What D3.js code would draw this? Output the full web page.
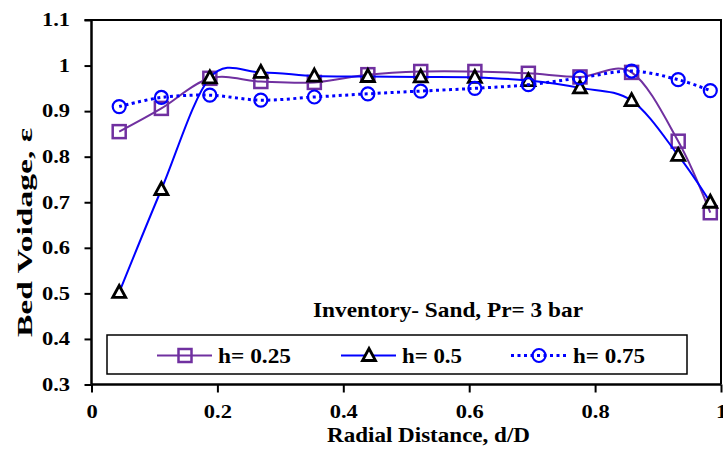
<!DOCTYPE html>
<html>
<head>
<meta charset="utf-8">
<script src="https://cdn.jsdelivr.net/npm/d3@7"></script>
<style>
  html, body { margin: 0; padding: 0; background: #fff; }
  svg { display: block; }
  text { font-family: "Liberation Serif", "Times New Roman", serif; font-weight: bold; fill: #000; }
</style>
</head>
<body>
<svg id="chart" width="723" height="450"></svg>
<script>
// Radial positions (d/D) of the measuring points
const radialPos = [0.044, 0.111, 0.188, 0.269, 0.354, 0.439, 0.523, 0.609, 0.694, 0.776, 0.858, 0.932, 0.983];

// Bed voidage at each radial position, one list per bed height
const voidH025 = [0.855, 0.906, 0.972, 0.965, 0.963, 0.980, 0.987, 0.987, 0.983, 0.975, 0.985, 0.834, 0.677];
const voidH050 = [0.502, 0.728, 0.973, 0.985, 0.977, 0.976, 0.975, 0.974, 0.967, 0.951, 0.923, 0.803, 0.700];
const voidH075 = [0.910, 0.930, 0.935, 0.924, 0.931, 0.938, 0.944, 0.950, 0.958, 0.973, 0.988, 0.969, 0.945];

const seriesNames = ["h= 0.25", "h= 0.5", "h= 0.75"];
const xTicks = [0, 0.2, 0.4, 0.6, 0.8, 1];
const yTicks = [0.3, 0.4, 0.5, 0.6, 0.7, 0.8, 0.9, 1, 1.1];
const annotation = "Inventory- Sand, Pr= 3 bar";
const xTitle = "Radial Distance, d/D";
const yTitle = "Bed Voidage, \u03b5";

const svg = d3.select("#chart");
const plot = { left: 91.5, right: 721, top: 20, bottom: 384.5 };

const x = d3.scaleLinear().domain([0, 1]).range([plot.left, plot.right]);
const y = d3.scaleLinear().domain([0.3, 1.1]).range([plot.bottom, plot.top]);

// Widen glyphs horizontally (wide bold serif look)
function widen(sel, factor) {
  sel.each(function () {
    const w = this.getComputedTextLength();
    d3.select(this).attr("textLength", w * factor).attr("lengthAdjust", "spacingAndGlyphs");
  });
}
function fitTo(sel, len) {
  sel.attr("textLength", len).attr("lengthAdjust", "spacingAndGlyphs");
}

// Frame: top and right borders
svg.append("path")
  .attr("d", `M${plot.left - 7},${plot.top}H${plot.right}V${plot.bottom}`)
  .attr("fill", "none").attr("stroke", "#000").attr("stroke-width", 2);

// Axes
const xAxis = svg.append("g")
  .attr("transform", `translate(0,${plot.bottom})`)
  .call(d3.axisBottom(x).tickValues(xTicks).tickSize(8).tickPadding(12.5)
    .tickFormat(d => d3.format("")(d)));
const yAxis = svg.append("g")
  .attr("transform", `translate(${plot.left},0)`)
  .call(d3.axisLeft(y).tickValues(yTicks).tickSize(7).tickPadding(14.5)
    .tickFormat(d => d3.format("")(+d.toFixed(1))));

[xAxis, yAxis].forEach(g => {
  g.select(".domain").attr("stroke", "#000").attr("stroke-width", 2.5);
  g.selectAll(".tick line").attr("stroke", "#000").attr("stroke-width", 2);
  g.selectAll(".tick text")
    .attr("font-family", "Liberation Serif, serif")
    .attr("font-weight", "bold")
    .attr("font-size", 18)
    .attr("fill", "#000")
    .call(widen, 1.25);
});
xAxis.select(".domain").attr("d", `M${plot.left},0H${plot.right}`);
yAxis.select(".domain").attr("d", `M0,${plot.top}V${plot.bottom}`);

// Axis titles
svg.append("text")
  .attr("x", 327 + 203 / 2).attr("y", 441.5)
  .attr("text-anchor", "middle").attr("font-size", 21.5)
  .text(xTitle).call(fitTo, 203);
svg.append("text")
  .attr("transform", `translate(32,232.5) rotate(-90)`)
  .attr("text-anchor", "middle").attr("font-size", 20)
  .text(yTitle).call(fitTo, 209);

// Series styles
const styles = [
  { values: voidH025, line: "#7030A0", width: 2, dash: null, marker: "square", mStroke: "#7030A0", mFill: "none" },
  { values: voidH050, line: "#0000FF", width: 2, dash: null, marker: "triangle", mStroke: "#000", mFill: "#fff" },
  { values: voidH075, line: "#0000FF", width: 3, dash: "3,3.5", marker: "circle", mStroke: "#0000FF", mFill: "none" }
];

const line = d3.line()
  .x(d => x(d[0])).y(d => y(d[1]))
  .curve(d3.curveCatmullRom.alpha(0));

function drawMarker(g, type, cx, cy, stroke, fill) {
  if (type === "square") {
    g.append("rect").attr("x", cx - 6.5).attr("y", cy - 6.5)
      .attr("width", 13).attr("height", 13)
      .attr("fill", fill).attr("stroke", stroke).attr("stroke-width", 2.5);
  } else if (type === "triangle") {
    g.append("path")
      .attr("d", `M${cx},${cy - 7}L${cx + 6.5},${cy + 5}L${cx - 6.5},${cy + 5}Z`)
      .attr("fill", fill).attr("stroke", stroke).attr("stroke-width", 2.8)
      .attr("stroke-linejoin", "miter");
  } else {
    g.append("circle").attr("cx", cx).attr("cy", cy).attr("r", 6.5)
      .attr("fill", fill).attr("stroke", stroke).attr("stroke-width", 2.2);
  }
}

styles.forEach(s => {
  const pts = radialPos.map((r, i) => [r, s.values[i]]);
  const g = svg.append("g");
  g.append("path").attr("d", line(pts))
    .attr("fill", "none").attr("stroke", s.line).attr("stroke-width", s.width)
    .attr("stroke-dasharray", s.dash);
  pts.forEach(p => drawMarker(g, s.marker, x(p[0]), y(p[1]), s.mStroke, s.mFill));
});

// Annotation
svg.append("text").attr("x", 313).attr("y", 317).attr("font-size", 21)
  .text(annotation).call(fitTo, 270);

// Legend
const legend = svg.append("g");
legend.append("rect").attr("x", 107).attr("y", 335).attr("width", 580).attr("height", 39)
  .attr("fill", "#fff").attr("stroke", "#000").attr("stroke-width", 1.5);
const legendX = [157, 341, 511];
const legendTextX = [218, 402, 573];
const legendTextW = [73, 60, 72];
styles.forEach((s, i) => {
  const lx = legendX[i], ly = 355.5;
  legend.append("line").attr("x1", lx).attr("x2", lx + 55).attr("y1", ly).attr("y2", ly)
    .attr("stroke", s.line).attr("stroke-width", s.width).attr("stroke-dasharray", s.dash);
  drawMarker(legend, s.marker, lx + 28, ly, s.mStroke, s.marker === "circle" ? "none" : s.mFill);
  legend.append("text").attr("x", legendTextX[i]).attr("y", 362.5).attr("font-size", 21)
    .text(seriesNames[i]).call(fitTo, legendTextW[i]);
});
</script>
</body>
</html>
